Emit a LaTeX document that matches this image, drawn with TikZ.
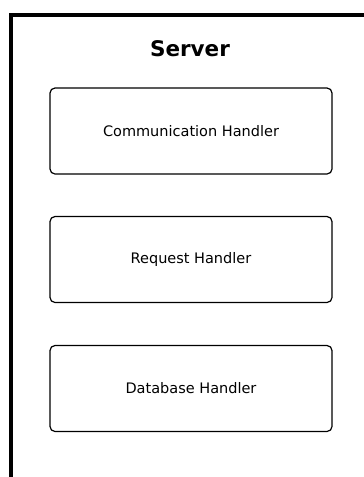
\documentclass[tikz,border=0pt]{standalone}
\usepackage{fontspec}
\setmainfont{DejaVu Sans}
\usepackage{tikz}
\usetikzlibrary{positioning}

\begin{document}
\begin{tikzpicture}[x=1pt, y=-1pt,
    handler/.style={draw, rectangle, rounded corners=5pt, line width=1.2pt,
        minimum width=282pt, minimum height=86pt, font=\fontsize{14.5}{17}\selectfont},
    title/.style={font=\fontsize{21.5}{25}\selectfont\bfseries}]
    \useasboundingbox (0,0) rectangle (364,477);

    % Server frame
    \coordinate (frameBottom) at (11,480);
    \coordinate (frameCorner) at (11,14.5);
    \coordinate (frameRight) at (370,14.5);
    \draw[line width=4pt] (frameBottom) -- (frameCorner) -- (frameRight);
    \node[title] (server) at (190,49) {Server};

    % Handlers
    \node[handler] (comm) at (191,131) {Communication Handler};
    \node[handler] (req) at (191,259.5) {Request Handler};
    \node[handler] (db) at (191,388.5) {Database Handler};
\end{tikzpicture}
\end{document}
